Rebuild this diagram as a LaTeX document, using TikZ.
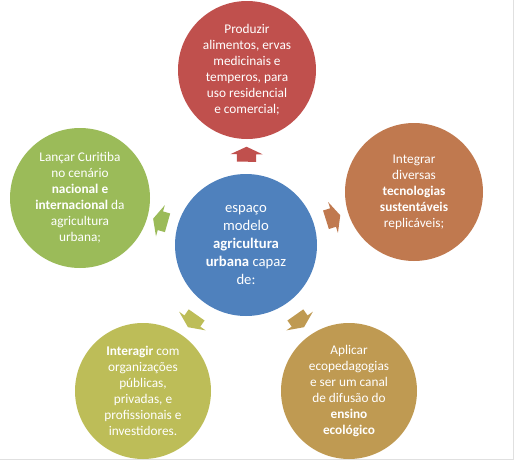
\documentclass[tikz,border=0pt]{standalone}
\usepackage{fontspec}
\setmainfont{Carlito}
\usetikzlibrary{shapes.arrows,calc}

\definecolor{hubblue}{HTML}{4F81BD}
\definecolor{topred}{HTML}{C0504D}
\definecolor{rightorange}{HTML}{C0794F}
\definecolor{leftgreen}{HTML}{9BBB59}
\definecolor{olivegreen}{HTML}{BDBD58}
\definecolor{sandbrown}{HTML}{BF9A52}

\begin{document}
\begin{tikzpicture}[x=1pt,y=-1pt,
    bubble/.style={circle,inner sep=0pt,text=white,align=center,font=\fontsize{13.3}{16}\selectfont},
    arrowblock/.style={single arrow,inner xsep=0pt,inner ysep=9.5pt,minimum height=15pt,
        single arrow head extend=6.5pt,single arrow tip angle=130,sloped,allow upside down,pos=0.5}]
    \useasboundingbox (0,0) rectangle (515,461);
    % Frame
    \draw[black!12] (0,459.5) -- (513.5,459.5) -- (513.5,0);

    % Center
    \node[bubble,fill=hubblue,minimum size=142pt,font=\fontsize{14.7}{18}\selectfont] (hub) at (246,245)
        {espaço\\modelo\\\textbf{agricultura}\\\textbf{urbana} capaz\\de:};

    % Outer circles
    \node[bubble,fill=topred,minimum size=138pt] (produzir) at (247,70)
        {Produzir\\alimentos, ervas\\medicinais e\\temperos, para\\uso residencial\\e comercial;};
    \node[bubble,fill=rightorange,minimum size=138pt] (integrar) at (414,192)
        {Integrar\\diversas\\\textbf{tecnologias}\\\textbf{sustentáveis}\\replicáveis;};
    \node[bubble,fill=sandbrown,minimum size=136pt] (aplicar) at (349,391)
        {Aplicar\\ecopedagogias\\e ser um canal\\de difusão do\\\textbf{ensino}\\\textbf{ecológico}};
    \node[bubble,fill=olivegreen,minimum size=136pt] (interagir) at (143,391)
        {\textbf{Interagir} com\\organizações\\públicas,\\privadas, e\\profissionais e\\investidores.};
    \node[bubble,fill=leftgreen,minimum size=140pt] (lancar) at (80,198)
        {Lançar Curitiba\\no cenário\\\textbf{nacional e}\\\textbf{internacional} da\\agricultura\\urbana;};

    % Arrows
    \path (hub) -- (produzir) node[arrowblock,fill=topred] (toproduzir) {};
    \path (hub) -- (integrar) node[arrowblock,fill=rightorange] (tointegrar) {};
    \path (hub) -- (aplicar) node[arrowblock,fill=sandbrown] (toaplicar) {};
    \path (hub) -- (interagir) node[arrowblock,fill=olivegreen] (tointeragir) {};
    \path (hub) -- (lancar) node[arrowblock,fill=leftgreen] (tolancar) {};
\end{tikzpicture}
\end{document}
